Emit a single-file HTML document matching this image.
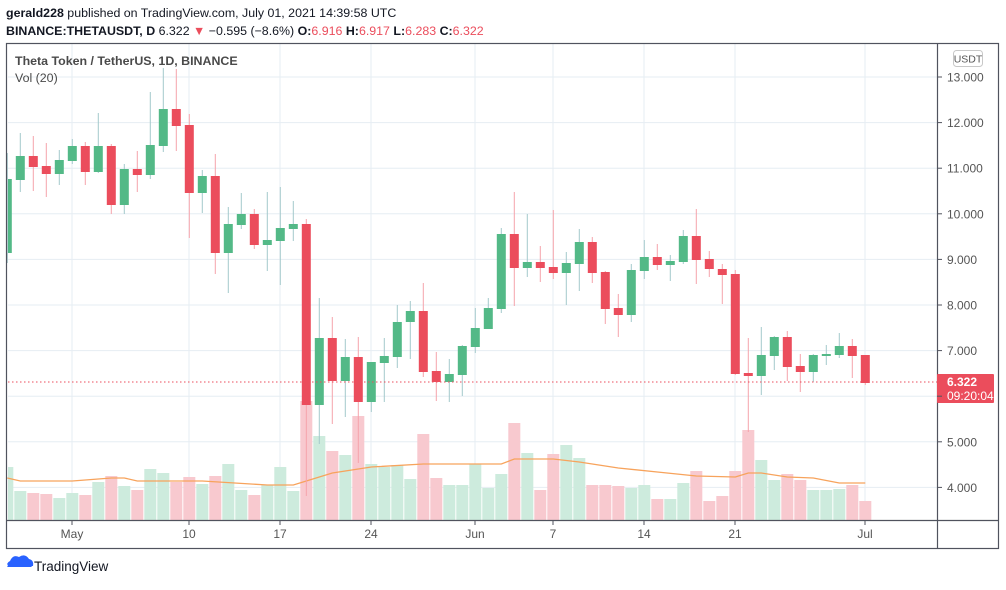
<!DOCTYPE html>
<html><head><meta charset="utf-8"><style>
body{margin:0;background:#fff;width:1006px;height:585px;overflow:hidden;font-family:"Liberation Sans",sans-serif}
</style></head><body>
<svg id="s" width="1006" height="585" xmlns="http://www.w3.org/2000/svg" font-family="Liberation Sans, sans-serif">
<text x="6" y="17" font-size="12.4" fill="#131722"><tspan font-weight="bold">gerald228</tspan> published on TradingView.com, July 01, 2021 14:39:58 UTC</text>
<text x="6" y="35" font-size="12.4" fill="#131722"><tspan font-weight="bold">BINANCE:THETAUSDT, D</tspan>  6.322 <tspan fill="#eb4d5c">▼</tspan> −0.595 (−8.6%) <tspan font-weight="bold">O:</tspan><tspan fill="#eb4d5c">6.916</tspan> <tspan font-weight="bold">H:</tspan><tspan fill="#eb4d5c">6.917</tspan> <tspan font-weight="bold">L:</tspan><tspan fill="#eb4d5c">6.283</tspan> <tspan font-weight="bold">C:</tspan><tspan fill="#eb4d5c">6.322</tspan></text>
<g id="grid"></g><g id="vol"></g><g id="ma"></g><g id="cd"></g>
<line x1="8" y1="382" x2="937" y2="382" stroke="#eb4d5c" stroke-width="1" stroke-dasharray="1.5 2.5"/>
<rect x="6.5" y="43.5" width="992" height="505" fill="none" stroke="#50535e" stroke-width="1.2"/>
<line x1="937.5" y1="43" x2="937.5" y2="548" stroke="#50535e" stroke-width="1.2"/>
<line x1="6" y1="520.5" x2="999" y2="520.5" stroke="#50535e" stroke-width="1.2"/>
<text x="15" y="65" font-size="12.4" font-weight="bold" fill="#4a4a4a">Theta Token / TetherUS, 1D, BINANCE</text>
<text x="15" y="82" font-size="12.4" fill="#4a4a4a">Vol (20)</text>
<rect x="953.5" y="50.5" width="29" height="16" rx="3" fill="#fff" stroke="#c8c8c8"/>
<text x="968" y="62.5" font-size="10.5" fill="#555" text-anchor="middle">USDT</text>
<rect x="937" y="374" width="57" height="29" fill="#eb4d5c" rx="1"/>
<text x="947" y="386" font-size="12" font-weight="bold" fill="#fff">6.322</text>
<text x="947" y="400" font-size="12" fill="#fff">09:20:04</text>
<g id="ax" font-size="12" fill="#555"></g>
<g transform="translate(6,553)"><path d="M1 14 L7 6 L12 11 L18 4 L26 14 Z" fill="#2962ff"/><path d="M4 8 Q7 1 13 4 Q19 0 23 6 Q28 7 27 13 L24 13 L18 6 L12 12 L7 7 L2 13 Q0 10 4 8Z" fill="#2962ff"/></g>
<text x="34" y="571" font-size="13.5" fill="#131722">TradingView</text>
</svg>
<script>
const NS="http://www.w3.org/2000/svg";
function el(p,t,a){const e=document.createElementNS(NS,t);for(const k in a)e.setAttribute(k,a[k]);document.getElementById(p).appendChild(e);return e;}
const py=p=>77+(13-p)*45.6;
for(let p=4;p<=13;p++){el('grid','line',{x1:8,x2:937,y1:py(p),y2:py(p),stroke:'#e6edf3','stroke-width':1});
 el('ax','line',{x1:937,x2:942,y1:py(p),y2:py(p),stroke:'#50535e'});
 if(p!=6){const t=el('ax','text',{x:947,y:py(p)+4.5});t.textContent=p.toFixed(3);}}
const vx=[[72,'May'],[189,'10'],[280,'17'],[371,'24'],[475,'Jun'],[553,'7'],[644,'14'],[735,'21'],[865,'Jul']];
for(const [x,l] of vx){el('grid','line',{x1:x,x2:x,y1:43,y2:520,stroke:'#e6edf3','stroke-width':1});
 el('ax','line',{x1:x,x2:x,y1:520,y2:525,stroke:'#50535e'});
 const t=el('ax','text',{x:x,y:538,'text-anchor':'middle'});t.textContent=l;}
const C=[[179,253,153,263,'G'],[156,180,133,192,'G'],[156,167,136,191,'R'],[166,174,143,197,'R'],[160,174,150,185,'G'],[146,161,139,164,'G'],[146,172,142,185,'R'],[146,172,113,173,'G'],[146,205,144,214,'R'],[169,205,164,214,'G'],[169,175,151,192,'R'],[145,175,92,179,'G'],[109,146,68,152,'G'],[109,126,69,151,'R'],[125,193,114,238,'R'],[176,193,170,213,'G'],[176,253,154,274,'R'],[224,253,207,293,'G'],[214,225,193,229,'G'],[214,245,209,249,'R'],[240,245,192,271,'G'],[228,241,187,285,'G'],[224,229,201,241,'G'],[224,405,219,496,'R'],[338,405,298,444,'G'],[338,381,317,424,'R'],[357,381,339,417,'G'],[357,402,337,463,'R'],[362,402,362,412,'G'],[356,363,338,402,'G'],[322,357,305,368,'G'],[311,322,301,359,'G'],[311,372,283,377,'R'],[371,382,352,401,'R'],[374,382,359,402,'G'],[346,375,345,396,'G'],[328,347,308,353,'G'],[308,329,298,329,'G'],[234,309,228,313,'G'],[234,268,192,306,'R'],[262,268,214,277,'G'],[262,268,246,282,'R'],[267,273,210,279,'R'],[263,273,252,305,'G'],[242,264,229,291,'G'],[242,273,237,283,'R'],[272,309,271,324,'R'],[308,315,294,337,'R'],[270,315,264,322,'G'],[257,271,240,279,'G'],[257,265,244,270,'R'],[261,265,255,281,'G'],[236,262,230,264,'G'],[236,260,209,284,'R'],[259,269,251,277,'R'],[269,275,264,304,'R'],[274,374,270,375,'R'],[373,376,338,432,'R'],[355,376,327,395,'G'],[337,356,336,370,'G'],[337,367,331,381,'R'],[366,372,354,392,'R'],[355,372,354,382,'G'],[354,356,345,365,'G'],[346,355,333,358,'G'],[346,356,339,378,'R'],[355,383,355,385,'R']];
const V=[[467,'G'],[491,'G'],[493,'R'],[494,'R'],[498,'G'],[493,'G'],[495,'R'],[482,'G'],[476,'R'],[486,'G'],[490,'R'],[469,'G'],[473,'G'],[482,'R'],[477,'R'],[484,'G'],[476,'R'],[464,'G'],[490,'G'],[495,'R'],[485,'G'],[467,'G'],[491,'G'],[401,'R'],[436,'G'],[451,'R'],[455,'G'],[416,'R'],[464,'G'],[467,'G'],[465,'G'],[479,'G'],[434,'R'],[478,'R'],[485,'G'],[485,'G'],[464,'G'],[488,'G'],[474,'G'],[423,'R'],[453,'G'],[490,'R'],[454,'R'],[445,'G'],[458,'G'],[485,'R'],[485,'R'],[486,'R'],[488,'G'],[485,'G'],[499,'R'],[499,'G'],[483,'G'],[471,'R'],[501,'R'],[496,'R'],[471,'R'],[430,'R'],[460,'G'],[480,'G'],[474,'R'],[480,'R'],[490,'G'],[490,'G'],[489,'G'],[485,'R'],[501,'R']];
const xi=i=>7.3+13*i;
V.forEach((v,i)=>{let x0=xi(i)-6,x1=xi(i)+6;if(x0<8)x0=8;el('vol','rect',{x:x0,y:v[0],width:x1-x0,height:520-v[0],fill:v[1]=='G'?'#cdebdd':'#f8c9cf'});});
C.forEach((c,i)=>{const x=xi(i),g=c[4]=='G';
 el('cd','line',{x1:x,x2:x,y1:c[2],y2:c[3],stroke:g?'#a3c9cb':'#f5a3ab','stroke-width':1});
 let x0=x-4.5;let w=9;if(x0<8){w-= (8-x0);x0=8;}
 el('cd','rect',{x:x0,y:c[0],width:w,height:Math.max(1,c[1]-c[0]),fill:g?'#53b987':'#eb4d5c'});});
const M=[[0,478],[1,481],[5,481],[8,478],[9,478],[10,481],[15,481],[20,485],[22,485],[23,481],[25,473],[28,467],[32,464],[35,464],[38,464],[39,459],[42,459],[44,462],[47,468],[50,472],[53,476],[56,477],[57,473],[58,473],[60,477],[62,478],[64,483],[66,483]];
el('ma','polyline',{points:M.map(m=>xi(m[0])+','+m[1]).join(' '),fill:'none',stroke:'#f7a35c','stroke-width':1.3});
</script>
</body></html>
